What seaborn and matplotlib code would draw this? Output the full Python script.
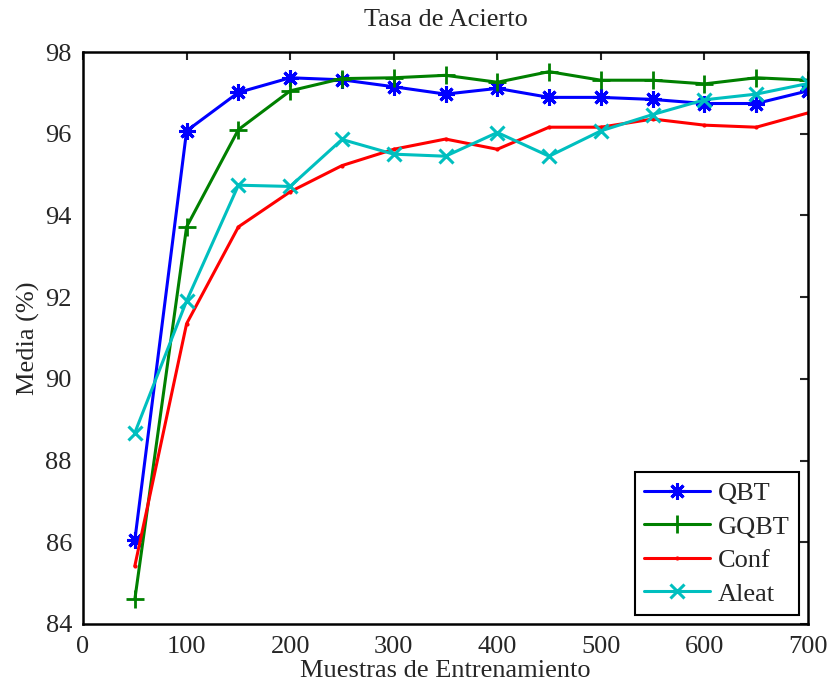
import matplotlib
matplotlib.use("Agg")
import matplotlib.pyplot as plt
import seaborn as sns
import pandas as pd

muestras = [50, 100, 150, 200, 250, 300, 350, 400, 450, 500, 550, 600, 650, 700]
qbt = [86.05, 96.07, 97.01, 97.37, 97.32, 97.15, 96.97, 97.11, 96.89, 96.89, 96.84, 96.74, 96.74, 97.05]
gqbt = [84.6, 93.72, 96.1, 97.05, 97.35, 97.37, 97.43, 97.26, 97.52, 97.31, 97.31, 97.22, 97.37, 97.31]
conf = [85.42, 91.35, 93.72, 94.58, 95.22, 95.62, 95.87, 95.62, 96.16, 96.16, 96.36, 96.21, 96.16, 96.51]
aleat = [88.68, 91.91, 94.74, 94.71, 95.86, 95.5, 95.45, 96.03, 95.45, 96.07, 96.47, 96.83, 96.97, 97.23]

series = ["QBT", "GQBT", "Conf", "Aleat"]
colors = ["#0000ff", "#008000", "#ff0000", "#00bfbf"]
markers = [(8, 2, 0), "+", ".", "x"]
msizes = [12, 13, 4, 10]
mews = [2.2, 2.0, 1.0, 2.2]

sns.set_style("white")
plt.rcParams['font.family'] = ['Liberation Serif', 'DejaVu Serif']

fig = plt.figure(figsize=(8.32, 6.91), dpi=100)
ax = fig.add_axes([0.0998, 0.097, 0.8714, 0.8277])

for name, vals, c, mk, ms, mew in zip(series, [qbt, gqbt, conf, aleat], colors, markers, msizes, mews):
    d = pd.DataFrame({"Muestras": muestras, "Media": vals})
    sns.lineplot(data=d, x="Muestras", y="Media", color=c, marker=mk,
                 markersize=ms, markeredgewidth=mew, markeredgecolor=c,
                 linewidth=2.2, label=name, ax=ax)

ax.set_xlim(0, 700)
ax.set_ylim(84, 98)
ax.set_xticks(range(0, 701, 100))
ax.set_yticks(range(84, 99, 2))
ax.tick_params(direction="in", length=6, width=1.5, labelsize=19, top=True, right=True)
ax.tick_params(axis="x", pad=9)
ax.tick_params(axis="y", pad=8)
for s in ax.spines.values():
    s.set_linewidth(1.8)
    s.set_color("black")
    s.set_visible(True)

ax.set_title("Tasa de Acierto", fontsize=19, pad=19)
ax.set_xlabel("Muestras de Entrenamiento", fontsize=19, labelpad=1)
ax.set_ylabel("Media (%)", fontsize=19, labelpad=4)

handles, labels = ax.get_legend_handles_labels()
leg = ax.legend(handles, labels, loc="lower right", fontsize=19, frameon=True,
                fancybox=False, edgecolor="black", framealpha=1,
                borderaxespad=0.35, handlelength=2.5, labelspacing=0.38,
                borderpad=0.35, handletextpad=0.3)
leg.get_frame().set_linewidth(1.5)

fig.savefig("out.png", dpi=100, facecolor="white")
